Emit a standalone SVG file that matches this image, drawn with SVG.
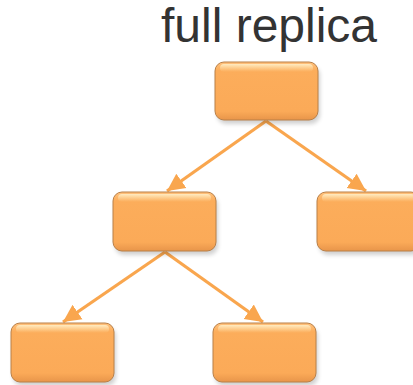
<svg xmlns="http://www.w3.org/2000/svg" width="413" height="385" viewBox="0 0 413 385">
<defs>
<style>
.box{fill:url(#g);stroke:#B98048;stroke-width:1;}
.hl{fill:url(#h);}
.sh{fill:#000;opacity:0.18;filter:url(#b);}
.conn{stroke:#F9A64E;stroke-width:3.2;fill:none;marker-end:url(#arr);}
.t{font-family:"Liberation Sans",Arial,sans-serif;font-size:48px;fill:#333;}
</style>
<linearGradient id="g" x1="0" y1="0" x2="0" y2="1">
<stop offset="0" stop-color="#FFC27E"/>
<stop offset="0.15" stop-color="#FCAD5B"/>
<stop offset="0.85" stop-color="#FBAA58"/>
<stop offset="1" stop-color="#E8954A"/>
</linearGradient>
<linearGradient id="h" x1="0" y1="0" x2="0" y2="1">
<stop offset="0" stop-color="#FFF0C8" stop-opacity="0.9"/>
<stop offset="1" stop-color="#FFE0A8" stop-opacity="0"/>
</linearGradient>
<filter id="b" x="-20%" y="-20%" width="140%" height="140%"><feGaussianBlur stdDeviation="2"/></filter>
<marker id="arr" viewBox="0 0 10 10" refX="10" refY="5" markerWidth="5.5" markerHeight="6" orient="auto" markerUnits="strokeWidth">
<path d="M0,0 L10,5 L0,10 z" fill="#F9A64E"/>
</marker>
</defs>
<text class="t" x="269" y="42" text-anchor="middle">full replica</text>
<g id="connectors">
<line class="conn" x1="266" y1="121" x2="167" y2="191"/>
<line class="conn" x1="266" y1="121" x2="366" y2="191"/>
<line class="conn" x1="165" y1="252" x2="63" y2="322"/>
<line class="conn" x1="165" y1="252" x2="263" y2="322"/>
</g>
<g id="n-top">
<rect class="sh" x="217" y="66" width="103" height="58" rx="9"/>
<rect class="box" x="215" y="62" width="103" height="58" rx="9"/>
<rect class="hl" x="220" y="64" width="93" height="8" rx="4"/>
</g>
<g id="n-midleft">
<rect class="sh" x="115" y="196" width="103" height="59" rx="9"/>
<rect class="box" x="113" y="192" width="103" height="59" rx="9"/>
<rect class="hl" x="118" y="194" width="93" height="8" rx="4"/>
</g>
<g id="n-midright">
<rect class="sh" x="319" y="196" width="103" height="59" rx="9"/>
<rect class="box" x="317" y="192" width="103" height="59" rx="9"/>
<rect class="hl" x="322" y="194" width="93" height="8" rx="4"/>
</g>
<g id="n-botleft">
<rect class="sh" x="13" y="327" width="103" height="59" rx="9"/>
<rect class="box" x="11" y="323" width="103" height="59" rx="9"/>
<rect class="hl" x="16" y="325" width="93" height="8" rx="4"/>
</g>
<g id="n-botright">
<rect class="sh" x="215" y="327" width="103" height="59" rx="9"/>
<rect class="box" x="213" y="323" width="103" height="59" rx="9"/>
<rect class="hl" x="218" y="325" width="93" height="8" rx="4"/>
</g>
</svg>
